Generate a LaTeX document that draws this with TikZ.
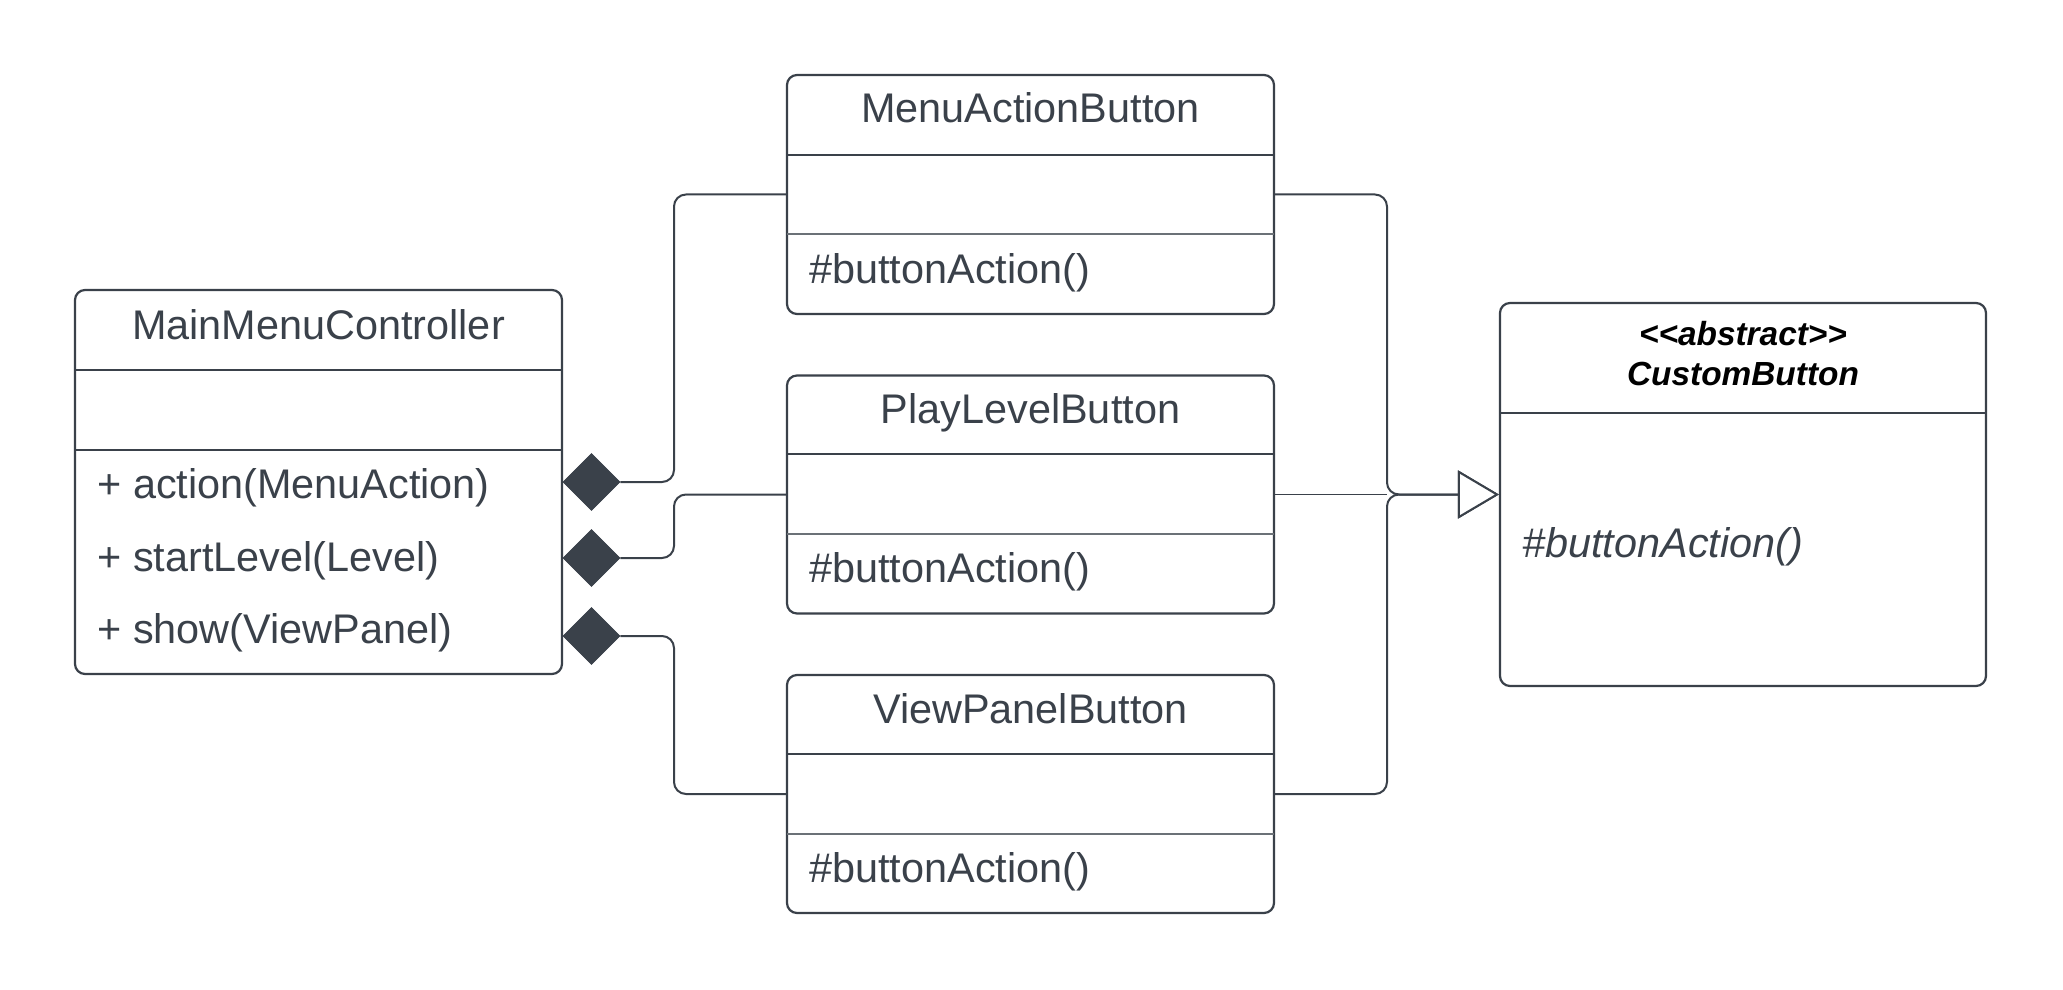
\documentclass[tikz,border=0pt]{standalone}
\usepackage{fontspec}
\setmainfont{Liberation Sans}
\usetikzlibrary{shapes.geometric,arrows.meta}
\definecolor{ink}{HTML}{3A414A}
\begin{document}
\begin{tikzpicture}[x=0.5pt,y=-0.5pt,
  frame/.style={draw=ink,line width=1.1pt,rounded corners=5pt,inner sep=0pt,fill=white,minimum width=243.5pt},
  part/.style={inner sep=0pt,minimum width=243.5pt,minimum height=40pt},
  hrule/.style={draw=ink,line width=1pt},
  mrule/.style={draw=ink!75,line width=0.55pt},
  title/.style={text=ink,font=\fontsize{20.7pt}{24pt}\selectfont,inner sep=0pt},
  member/.style={text=ink,font=\fontsize{20.7pt}{24pt}\selectfont,inner sep=0pt,anchor=west},
  stereo/.style={text=black,font=\fontsize{16.7pt}{20pt}\selectfont\bfseries\itshape,inner sep=0pt},
  conn/.style={draw=ink,line width=1pt,rounded corners=6pt},
  thinconn/.style={draw=ink,line width=0.55pt},
  comp/.style={diamond,draw=ink,fill=ink,inner sep=0pt,minimum width=28.5pt,minimum height=28.5pt},
  gen/.style={-{Triangle[open,length=20.5pt,width=24pt,fill=white]}}
]
\useasboundingbox (0,0) rectangle (2063,990);

% MainMenuController
\node[frame,minimum height=192pt] (mmc) at (318.5,482) {};
\draw[hrule] (75,370) -- (562,370);
\draw[hrule] (75,450) -- (562,450);
\node[title] (mmc-t) at (318.5,325) {MainMenuController};
\node[member] (mmc-m1) at (97,488) {+ action(MenuAction)};
\node[member] (mmc-m2) at (97,560.5) {+ startLevel(Level)};
\node[member] (mmc-m3) at (97,633) {+ show(ViewPanel)};

% MenuActionButton
\node[frame,minimum height=119.5pt] (mab) at (1030.5,194.5) {};
\node[part] (mab-a) at (1030.5,194.5) {};
\draw[hrule] (787,155) -- (1274,155);
\draw[mrule] (787,234) -- (1274,234);
\node[title] (mab-t) at (1030.5,108) {MenuActionButton};
\node[member] (mab-m) at (809,272.5) {\#buttonAction()};

% PlayLevelButton
\node[frame,minimum height=119pt] (plb) at (1030.5,494.5) {};
\node[part] (plb-a) at (1030.5,494.5) {};
\draw[hrule] (787,454) -- (1274,454);
\draw[mrule] (787,534) -- (1274,534);
\node[title] (plb-t) at (1030.5,413) {PlayLevelButton};
\node[member] (plb-m) at (809,572) {\#buttonAction()};

% ViewPanelButton
\node[frame,minimum height=119pt] (vpb) at (1030.5,794) {};
\node[part] (vpb-a) at (1030.5,794) {};
\draw[hrule] (787,754) -- (1274,754);
\draw[mrule] (787,834) -- (1274,834);
\node[title] (vpb-t) at (1030.5,709) {ViewPanelButton};
\node[member] (vpb-m) at (809,872) {\#buttonAction()};

% CustomButton
\node[frame,minimum width=243pt,minimum height=191.5pt] (cb) at (1743,494.5) {};
\draw[hrule] (1500,413) -- (1986,413);
\node[stereo] (cb-s) at (1743,334) {<{}<abstract>{}>};
\node[stereo] (cb-t) at (1743,374) {CustomButton};
\node[member,font=\fontsize{20.7pt}{24pt}\selectfont\itshape] (cb-m) at (1522,547) {\#buttonAction()};

% composition diamonds
\node[comp] (d1) at (591.5,482) {};
\node[comp] (d2) at (591.5,558) {};
\node[comp] (d3) at (591.5,636) {};

\coordinate (lx) at (674,0);
\draw[conn] (d1.east) -| (lx |- mab-a.west) -- (mab-a.west);
\draw[conn] (d2.east) -| (lx |- plb-a.west) -- (plb-a.west);
\draw[conn] (d3.east) -| (lx |- vpb-a.west) -- (vpb-a.west);

% generalization
\coordinate (j) at (1387,494.5);
\draw[conn,gen] (mab-a.east) -| (j) -- (cb.west);
\draw[conn,gen] (vpb-a.east) -| (j) -- (cb.west);
\draw[thinconn] (plb-a.east) -- (j);
\end{tikzpicture}
\end{document}
